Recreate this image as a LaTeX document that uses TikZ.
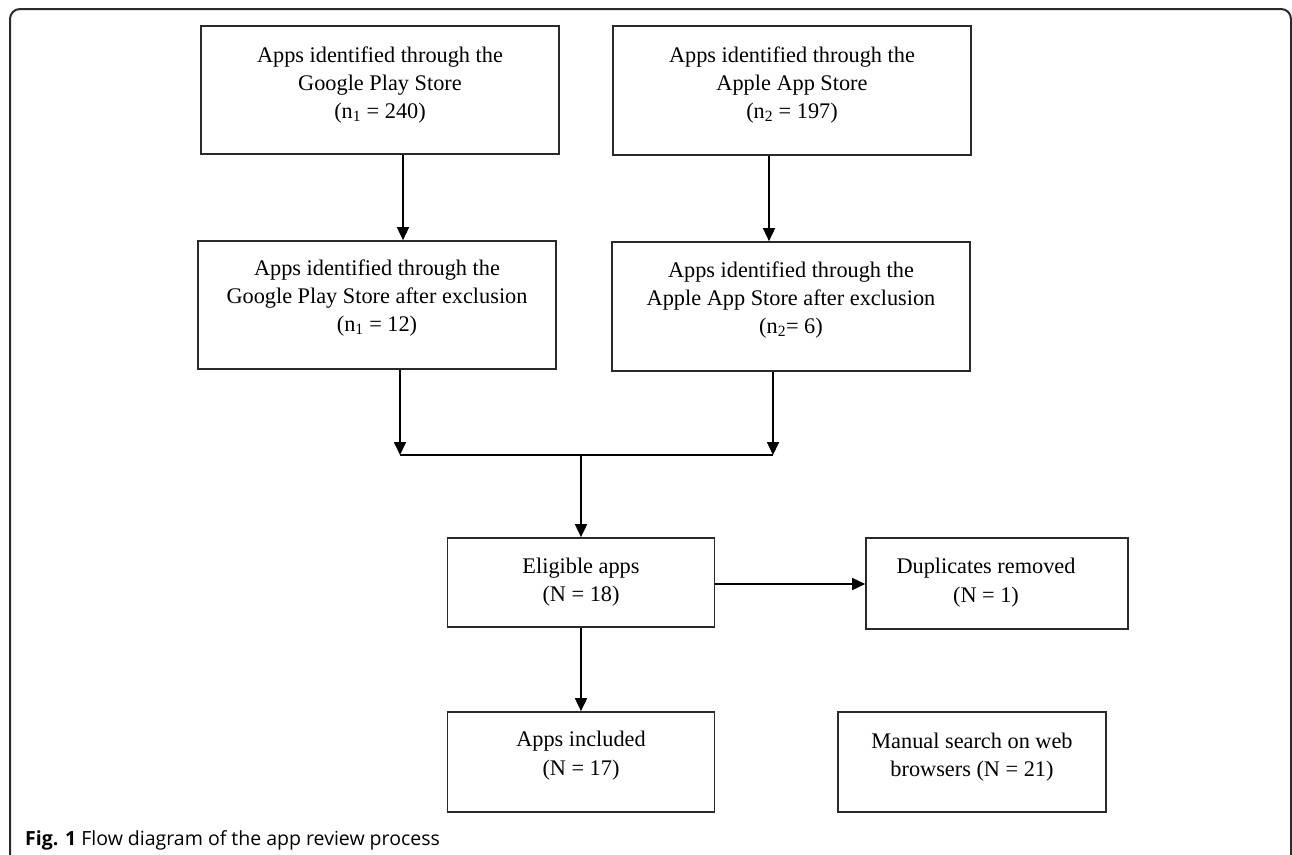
\documentclass[tikz,border=0pt]{standalone}
\usepackage{fontspec}
\setmainfont{Liberation Serif}
\newfontfamily\capfont{Open Sans}
\usetikzlibrary{arrows.meta}
\definecolor{edge}{HTML}{2A2A2A}
\begin{document}
\begin{tikzpicture}[x=1pt,y=-1pt,
  box/.style={draw=edge, line width=1.7pt, rectangle, inner sep=0pt},
  txt/.style={align=center, font=\fontsize{22.3}{28.3}\selectfont, inner sep=0pt},
  arr/.style={draw=black, line width=1.7pt, -{Triangle[length=13pt,width=12pt]}},
  ln/.style={draw=black, line width=1.7pt},
  frame/.style={draw=edge, line width=2pt, rounded corners=10pt}]
\useasboundingbox (0,0) rectangle (1292,854);
\draw[frame] (10,880) -- (10,9) -- (1291,9) -- (1291,880);

% boxes
\node[box, minimum width=358pt, minimum height=128pt] (gps) at (380,90) {};
\node[txt] (gpsT) at (380,85) {Apps identified through the\\Google Play Store\\(n\textsubscript{1} = 240)};

\node[box, minimum width=358pt, minimum height=129pt] (aps) at (792,90.5) {};
\node[txt] (apsT) at (792,85) {Apps identified through the\\Apple App Store\\(n\textsubscript{2} = 197)};

\node[box, minimum width=358pt, minimum height=128pt] (gpsx) at (377,305) {};
\node[txt] (gpsxT) at (377,298) {Apps identified through the\\Google Play Store after exclusion\\(n\textsubscript{1} = 12)};

\node[box, minimum width=358pt, minimum height=129pt] (apsx) at (791,306.5) {};
\node[txt] (apsxT) at (791,300) {Apps identified through the\\Apple App Store after exclusion\\(n\textsubscript{2}= 6)};

\node[box, minimum width=267pt, minimum height=89pt] (elig) at (581,582.5) {};
\node[txt] (eligT) at (581,582) {Eligible apps\\(N = 18)};

\node[box, minimum width=262pt, minimum height=91pt] (dup) at (997,583.5) {};
\node[txt] (dupT) at (986,582.5) {Duplicates removed\\(N = 1)};

\node[box, minimum width=267pt, minimum height=100pt] (incl) at (581,762) {};
\node[txt] (inclT) at (581,755.5) {Apps included\\(N = 17)};

\node[box, minimum width=268pt, minimum height=100pt] (man) at (972,762) {};
\node[txt] (manT) at (972,757) {Manual search on web\\browsers (N = 21)};

% connectors
\draw[arr] ([xshift=23pt]gps.south) -- ([xshift=23pt]gps.south |- gpsx.north);
\draw[arr] ([xshift=-23pt]aps.south) -- ([xshift=-23pt]aps.south |- apsx.north);
\coordinate (jl) at (400,455);
\coordinate (jr) at (773,455);
\coordinate (jm) at (581,455);
\coordinate (ej) at (715,584);
\draw[arr] (gpsx.south -| jl) -- (jl);
\draw[arr] (apsx.south -| jr) -- (jr);
\draw[ln] (jl) -- (jr);
\draw[arr] (jm) -- (elig.north -| jm);
\draw[arr] (elig.east |- ej) -- (dup.west |- ej);
\draw[arr] (elig.south) -- (incl.north);

% caption
\node[anchor=base west, inner sep=0pt, font=\capfont\fontsize{19.5}{24}\selectfont] (cap) at (25,845) {\textbf{Fig. 1} Flow diagram of the app review process};
\end{tikzpicture}
\end{document}
